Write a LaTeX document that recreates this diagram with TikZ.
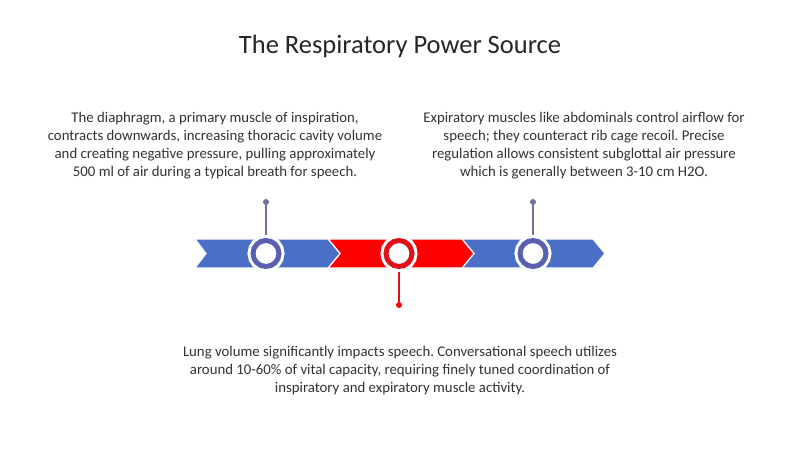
\documentclass[tikz,border=0pt]{standalone}
\usepackage{fontspec}
\setmainfont{Carlito}
\frenchspacing
\definecolor{bandblue}{HTML}{4A6FC6}
\definecolor{bandred}{HTML}{FF0000}
\definecolor{ringblue}{HTML}{5A5FB0}
\definecolor{ringred}{HTML}{E0101A}
\definecolor{stemblue}{HTML}{6A7298}
\definecolor{txt}{HTML}{333333}
\begin{document}
\begin{tikzpicture}[x=1pt,y=-1pt,
  body/.style={align=center, font=\fontsize{14.8}{18}\selectfont, text=txt, inner sep=0pt},
  seg/.style={draw=white, line width=1.2pt, line join=miter},
  ring/.style={circle, minimum size=26pt, inner sep=0pt, line width=5pt, fill=white, preaction={draw=white, line width=11pt}},
  dot/.style={circle, minimum size=6pt, inner sep=0pt},
  stem/.style={line width=1.3pt}]
\useasboundingbox (0,0) rectangle (800,449);
\fill[white] (0,0) rectangle (800,449);
\node[font=\fontsize{26.5}{30}\selectfont, text=black!85] (title) at (400,46) {The Respiratory Power Source};
% text blocks
\node[body] (t1) at (215,146) {The diaphragm, a primary muscle of inspiration,\\contracts downwards, increasing thoracic cavity volume\\and creating negative pressure, pulling approximately\\500 ml of air during a typical breath for speech.};
\node[body] (t2) at (584,146) {Expiratory muscles like abdominals control airflow for\\speech; they counteract rib cage recoil. Precise\\regulation allows consistent subglottal air pressure\\which is generally between 3-10 cm H2O.};
\node[body] (t3) at (400,371) {Lung volume significantly impacts speech. Conversational speech utilizes\\around 10-60\% of vital capacity, requiring finely tuned coordination of\\inspiratory and expiratory muscle activity.};
% band segments
\fill[bandblue, seg] (462,239) -- (593,239) -- (605,253.5) -- (593,268) -- (462,268) -- (474,253.5) -- cycle;
\fill[bandred, seg] (328,239) -- (462,239) -- (474,253.5) -- (462,268) -- (328,268) -- (340,253.5) -- cycle;
\fill[bandblue, seg] (195,239) -- (328,239) -- (340,253.5) -- (328,268) -- (195,268) -- (206,253.5) -- cycle;
% stems and dots
\node[dot, fill=stemblue] (d1) at (266,202) {};
\node[dot, fill=stemblue] (d3) at (533,202) {};
\node[dot, fill=bandred] (d2) at (399,305) {};
\coordinate (s1) at (266,253.5);
\coordinate (s2) at (399,253.5);
\coordinate (s3) at (533,253.5);
\draw[stem, stemblue] (d1) -- (s1);
\draw[stem, stemblue] (d3) -- (s3);
\draw[stem, ringred] (d2) -- (s2);
% rings
\node[ring, draw=ringblue] (c1) at (s1) {};
\node[ring, draw=ringred] (c2) at (s2) {};
\node[ring, draw=ringblue] (c3) at (s3) {};
\end{tikzpicture}
\end{document}
